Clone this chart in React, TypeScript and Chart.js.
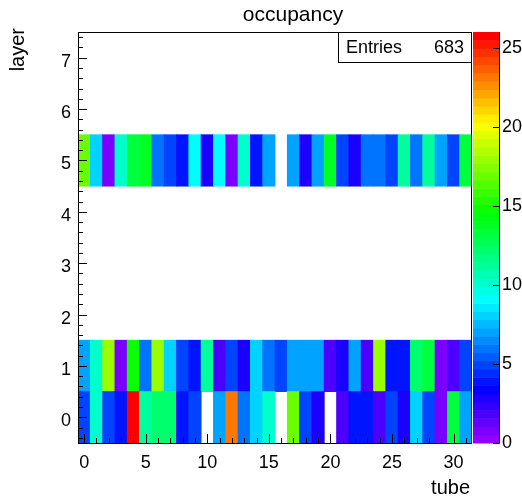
import React, { useEffect, useRef } from "react";
import { Chart, registerables } from "chart.js";

Chart.register(...registerables);

// ---- data ----
const chartTitle = "occupancy";
const xTitle = "tube";
const yTitle = "layer";
const tubes = [0, 1, 2, 3, 4, 5, 6, 7, 8, 9, 10, 11, 12, 13, 14, 15, 16, 17, 18, 19, 20, 21, 22, 23, 24, 25, 26, 27, 28, 29, 30, 31];
const layers = [0, 1, 5];
const layer0 = [5, 10, 5, 4, 26, 11, 12, 12, 4, 5, 0, 7, 23, 6, 8, 10, 0, 17, 5, 3, 0, 2, 4, 4, 2, 5, 3, 8, 5, 1, 13, 7];
const layer1 = [7, 10, 18, 1, 15, 6, 18, 8, 5, 4, 11, 2, 5, 3, 8, 6, 5, 7, 7, 7, 2, 3, 7, 2, 18, 4, 4, 12, 13, 1, 2, 5];
const layer5 = [17, 8, 1, 10, 13, 14, 6, 5, 4, 9, 3, 9, 1, 10, 4, 7, 0, 7, 3, 7, 14, 5, 3, 6, 6, 5, 11, 6, 11, 7, 5, 13];
const rows = [layer0, layer1, layer5];
const xTicks = [0, 5, 10, 15, 20, 25, 30];
const yTicks = [0, 1, 2, 3, 4, 5, 6, 7];
const zTicks = [0, 5, 10, 15, 20, 25];
const xRange = [-0.5, 31.5];
const yRange = [-0.5, 7.5];
const zRange = [0, 26];
const entriesLabel = "Entries";
const entries = 683;
const nColors = 50;

const FONT = "'Liberation Sans', Arial, Helvetica, sans-serif";

function paletteColor(k: number): string {
  const hue = 280 - (k + 1) * (280 / nColors);
  return `hsl(${hue}, 100%, 50%)`;
}
function colorFor(v: number): string {
  let k = Math.floor(0.01 + ((v - zRange[0]) * nColors) / (zRange[1] - zRange[0]));
  if (k > nColors - 1) k = nColors - 1;
  if (k < 0) k = 0;
  return paletteColor(k);
}

const decorPlugin = {
  id: "rootDecor",
  afterDraw(chart: any) {
    const ctx = chart.ctx as CanvasRenderingContext2D;
    const a = chart.chartArea;
    const xs = chart.scales.x;
    const ys = chart.scales.y;
    const zs = chart.scales.z;
    ctx.save();
    ctx.strokeStyle = "#000";
    ctx.lineWidth = 1;
    // x ticks (inside, from bottom)
    ctx.beginPath();
    for (let v = Math.ceil(xRange[0]); v <= xRange[1]; v++) {
      const px = Math.round(xs.getPixelForValue(v)) + 0.5;
      const len = v % 5 === 0 ? 9 : 5;
      ctx.moveTo(px, a.bottom);
      ctx.lineTo(px, a.bottom - len);
    }
    // y ticks (inside, from left)
    for (let i = 0; ; i++) {
      const v = yRange[0] + 0.1 + i * 0.2;
      if (v > yRange[1]) break;
      const py = Math.round(ys.getPixelForValue(v)) + 0.5;
      const isMajor = Math.abs(v - Math.round(v)) < 1e-6;
      const len = isMajor ? 9 : 5;
      ctx.moveTo(a.left, py);
      ctx.lineTo(a.left + len, py);
    }
    ctx.stroke();
    // frame
    ctx.strokeRect(a.left + 0.5, a.top + 0.5, a.right - a.left - 1, a.bottom - a.top);

    // colour bar
    const cbL = a.right + 1;
    const cbR = a.right + 27;
    for (let k = 0; k < nColors; k++) {
      const v0 = zRange[0] + (k * (zRange[1] - zRange[0])) / nColors;
      const v1 = zRange[0] + ((k + 1) * (zRange[1] - zRange[0])) / nColors;
      const y0 = zs.getPixelForValue(v0);
      const y1 = zs.getPixelForValue(v1);
      ctx.fillStyle = paletteColor(k);
      ctx.fillRect(cbL, y1, cbR - cbL, y0 - y1 + 0.5);
    }
    ctx.beginPath();
    ctx.moveTo(cbR + 0.5, a.top);
    ctx.lineTo(cbR + 0.5, a.bottom + 0.5);
    for (const t of zTicks) {
      const py = Math.round(zs.getPixelForValue(t)) + 0.5;
      ctx.moveTo(cbR + 0.5, py);
      ctx.lineTo(cbR - 6, py);
    }
    ctx.stroke();

    // stats box
    const bx0 = 338.5, by0 = a.top + 0.5, bx1 = a.right - 0.5, by1 = a.top + 30.5;
    ctx.fillStyle = "#fff";
    ctx.fillRect(bx0, by0, bx1 - bx0, by1 - by0);
    ctx.strokeRect(bx0, by0, bx1 - bx0, by1 - by0);
    ctx.fillStyle = "#000";
    ctx.font = `18px ${FONT}`;
    ctx.textBaseline = "middle";
    ctx.textAlign = "left";
    ctx.fillText(entriesLabel, 346, (by0 + by1) / 2 + 1);
    ctx.textAlign = "right";
    ctx.fillText(String(entries), 464, (by0 + by1) / 2 + 1);

    // titles
    ctx.textBaseline = "alphabetic";
    ctx.font = `21px ${FONT}`;
    ctx.textAlign = "center";
    ctx.fillText(chartTitle, 293, 21);
    ctx.font = `20px ${FONT}`;
    ctx.textAlign = "right";
    ctx.fillText(xTitle, 470, 494);
    ctx.save();
    ctx.translate(24, a.top - 4);
    ctx.rotate(-Math.PI / 2);
    ctx.textAlign = "right";
    ctx.fillText(yTitle, 0, 0);
    ctx.restore();
    ctx.restore();
  },
};

function noPad(s: any) {
  s.paddingTop = 0;
  s.paddingBottom = 0;
  s.paddingLeft = 0;
  s.paddingRight = 0;
}

export default function App() {
  const ref = useRef<HTMLCanvasElement | null>(null);
  useEffect(() => {
    if (!ref.current) return;
    const datasets = layers.map((L, li) => {
      const row = rows[li];
      const data: any[] = [];
      const colors: string[] = [];
      row.forEach((v, i) => {
        if (v > 0) {
          data.push({ x: tubes[i], y: [L - 0.5, L + 0.5] });
          colors.push(colorFor(v));
        }
      });
      return {
        label: `layer ${L}`,
        data,
        backgroundColor: colors,
        borderWidth: 0,
        barPercentage: 1,
        categoryPercentage: 1,
        grouped: false,
        inflateAmount: 0.4,
      };
    });
    const tickFont = { family: FONT, size: 18 };
    const chart = new Chart(ref.current, {
      type: "bar",
      data: { datasets } as any,
      plugins: [decorPlugin],
      options: {
        animation: false,
        responsive: false,
        devicePixelRatio: 1,
        layout: { padding: { top: 32, left: 0, right: 0, bottom: 0 } },
        plugins: { legend: { display: false }, tooltip: { enabled: false }, title: { display: false } },
        scales: {
          x: {
            type: "linear",
            min: xRange[0],
            max: xRange[1],
            offset: false,
            grid: { display: false, drawTicks: false, offset: false },
            border: { display: false },
            afterBuildTicks: (s: any) => { s.ticks = xTicks.map((v) => ({ value: v })); },
            afterFit: (s: any) => { s.height = 56; noPad(s); },
            ticks: { font: tickFont, color: "#000", padding: 9, maxRotation: 0, autoSkip: false, callback: (v: any) => String(v) },
          },
          y: {
            type: "linear",
            min: yRange[0],
            max: yRange[1],
            grid: { display: false, drawTicks: false },
            border: { display: false },
            afterBuildTicks: (s: any) => { s.ticks = yTicks.map((v) => ({ value: v })); },
            afterFit: (s: any) => { s.width = 78; noPad(s); },
            ticks: { font: tickFont, color: "#000", padding: 7, labelOffset: 4, autoSkip: false, callback: (v: any) => String(v) },
          },
          z: {
            type: "linear",
            position: "right",
            min: zRange[0],
            max: zRange[1],
            grid: { display: false, drawTicks: false },
            border: { display: false },
            afterBuildTicks: (s: any) => { s.ticks = zTicks.map((v) => ({ value: v })); },
            afterFit: (s: any) => { s.width = 50; noPad(s); },
            ticks: { font: tickFont, color: "#000", padding: 30, autoSkip: false, callback: (v: any) => String(v) },
          },
        },
      } as any,
    });
    return () => chart.destroy();
  }, []);
  return (
    <div style={{ position: "absolute", left: 0, top: 0, width: 522, height: 499, background: "#fff" }}>
      <canvas ref={ref} width={522} height={499} style={{ width: 522, height: 499 }} />
    </div>
  );
}
